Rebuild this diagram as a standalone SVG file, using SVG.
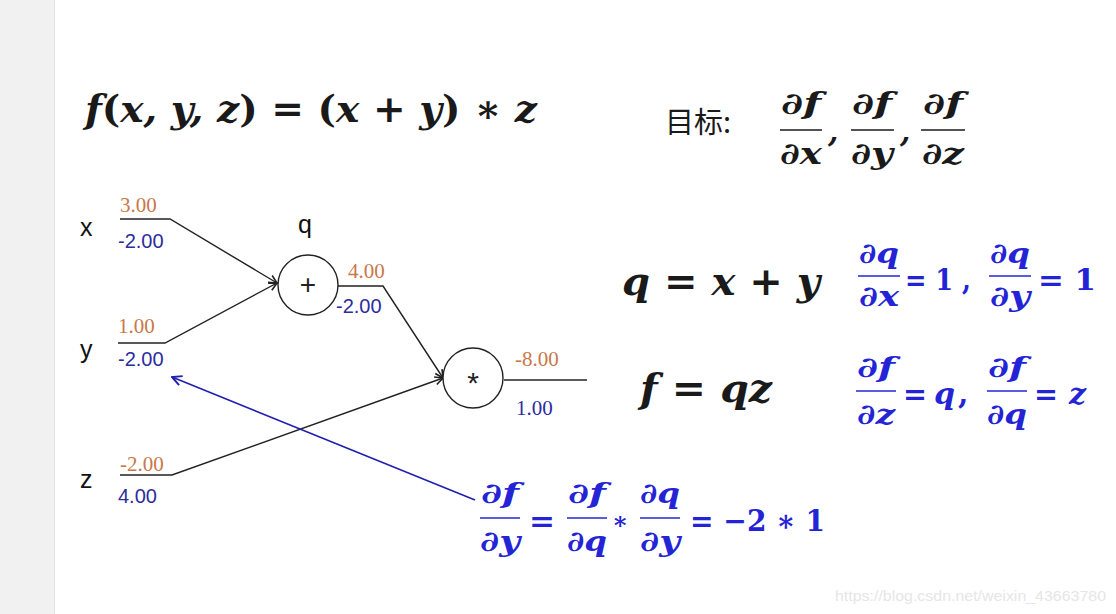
<svg xmlns="http://www.w3.org/2000/svg" width="1116" height="614" viewBox="0 0 1116 614">
<defs>
<style>
.m{font-family:"DejaVu Serif","Liberation Serif",serif;font-weight:bold;font-style:italic;fill:#1a1a1a}
.mb{font-family:"DejaVu Serif","Liberation Serif",serif;font-weight:bold;font-style:italic;fill:#2424d6}
.up{font-style:normal}
.lbl{font-family:"Liberation Sans","DejaVu Sans",sans-serif;font-size:25px;fill:#111}
.or{font-family:"Liberation Serif",serif;font-size:21px;fill:#c8784a}
.bs{font-family:"Liberation Sans",sans-serif;font-size:20px;fill:#2c2c9e}
.bsr{font-family:"Liberation Serif",serif;font-size:21px;fill:#2c2c9e}
.edge{fill:none;stroke:#222;stroke-width:1.4}
.node{fill:#fff;stroke:#222;stroke-width:1.4}
.fl{stroke:#1a1a1a;stroke-width:1.6}
.flb{stroke:#2424d6;stroke-width:1.6}
</style>
<marker id="ah" viewBox="0 0 10 10" refX="9" refY="5" markerWidth="10" markerHeight="10" markerUnits="userSpaceOnUse" orient="auto">
<path d="M1,1 L9,5 L1,9" fill="none" stroke="#222" stroke-width="1.6"/>
</marker>
<marker id="ahb" viewBox="0 0 10 10" refX="9" refY="5" markerWidth="12" markerHeight="12" markerUnits="userSpaceOnUse" orient="auto">
<path d="M1,1 L9,5 L1,9" fill="none" stroke="#2020b0" stroke-width="1.6"/>
</marker>
</defs>
<rect x="0" y="0" width="1116" height="614" fill="#fff"/>
<rect x="0" y="0" width="54" height="614" fill="#f1f1f1"/>
<line x1="54.5" y1="0" x2="54.5" y2="614" stroke="#e2e2e2" stroke-width="1"/>

<g id="title">
<text class="m" x="85" y="122" font-size="38" textLength="452" lengthAdjust="spacingAndGlyphs">f<tspan class="up">(</tspan>x, y, z<tspan class="up">) = (</tspan>x <tspan class="up">+</tspan>  y<tspan class="up">) ∗ </tspan>z</text>
</g>

<g id="goal">
<text x="665" y="133" font-family="'Noto Sans CJK SC',sans-serif" font-size="29" fill="#1a1a1a">目标:</text>
<text class="m" x="801" y="114" font-size="30" text-anchor="middle" textLength="40" lengthAdjust="spacingAndGlyphs">∂f</text>
<line class="fl" x1="780" y1="130" x2="822" y2="130"/>
<text class="m" x="801" y="164" font-size="30" text-anchor="middle" textLength="42" lengthAdjust="spacingAndGlyphs">∂x</text>
<text class="m" x="828" y="142" font-size="30">,</text>
<text class="m" x="872" y="114" font-size="30" text-anchor="middle" textLength="40" lengthAdjust="spacingAndGlyphs">∂f</text>
<line class="fl" x1="851" y1="130" x2="894" y2="130"/>
<text class="m" x="872" y="164" font-size="30" text-anchor="middle" textLength="42" lengthAdjust="spacingAndGlyphs">∂y</text>
<text class="m" x="900" y="142" font-size="30">,</text>
<text class="m" x="943" y="114" font-size="30" text-anchor="middle" textLength="40" lengthAdjust="spacingAndGlyphs">∂f</text>
<line class="fl" x1="921" y1="130" x2="965" y2="130"/>
<text class="m" x="943" y="164" font-size="30" text-anchor="middle" textLength="42" lengthAdjust="spacingAndGlyphs">∂z</text>
</g>

<g id="connectors">
<path class="edge" d="M120,219 H170 L277,283" marker-end="url(#ah)"/>
<path class="edge" d="M118,343 H165 L277,283" marker-end="url(#ah)"/>
<path class="edge" d="M338,286 H383 L443,378" marker-end="url(#ah)"/>
<path class="edge" d="M120,475 H172 L443,378" marker-end="url(#ah)"/>
<path class="edge" d="M504,380 H587"/>
<path d="M475,500 L172,377" fill="none" stroke="#2020b0" stroke-width="1.6" marker-end="url(#ahb)"/>
</g>

<g id="input-x">
<text class="lbl" x="80" y="236">x</text>
<text class="or" x="120" y="212">3.00</text>
<text class="bs" x="118" y="248">-2.00</text>
</g>
<g id="input-y">
<text class="lbl" x="80" y="358">y</text>
<text class="or" x="118" y="333">1.00</text>
<text class="bs" x="118" y="366">-2.00</text>
</g>
<g id="input-z">
<text class="lbl" x="80" y="488">z</text>
<text class="or" x="120" y="471">-2.00</text>
<text class="bs" x="118" y="503">4.00</text>
</g>
<g id="node-add">
<text class="lbl" x="298" y="233">q</text>
<circle class="node" cx="308" cy="285" r="30"/>
<text x="308" y="294" font-family="'Liberation Sans',sans-serif" font-size="28" fill="#222" text-anchor="middle">+</text>
<text class="or" x="348" y="278">4.00</text>
<text class="bs" x="336" y="313">-2.00</text>
</g>
<g id="node-mul">
<circle class="node" cx="473" cy="378" r="30"/>
<text x="473" y="393" font-family="'Liberation Sans',sans-serif" font-size="30" fill="#222" text-anchor="middle">*</text>
<text class="or" x="515" y="366">-8.00</text>
<text class="bsr" x="516" y="415">1.00</text>
</g>

<g id="eq-q">
<text class="m" x="622" y="295" font-size="40" textLength="198" lengthAdjust="spacingAndGlyphs">q <tspan class="up">=</tspan> x <tspan class="up">+</tspan> y</text>
<text class="mb" x="879" y="263" font-size="28" text-anchor="middle" textLength="40" lengthAdjust="spacingAndGlyphs">∂q</text>
<line class="flb" x1="858" y1="276" x2="900" y2="276"/>
<text class="mb" x="879" y="306" font-size="28" text-anchor="middle" textLength="40" lengthAdjust="spacingAndGlyphs">∂x</text>
<text class="mb up" x="905" y="290" font-size="30" textLength="66" lengthAdjust="spacingAndGlyphs">= 1 ,</text>
<text class="mb" x="1010" y="263" font-size="28" text-anchor="middle" textLength="40" lengthAdjust="spacingAndGlyphs">∂q</text>
<line class="flb" x1="989" y1="276" x2="1031" y2="276"/>
<text class="mb" x="1010" y="306" font-size="28" text-anchor="middle" textLength="40" lengthAdjust="spacingAndGlyphs">∂y</text>
<text class="mb up" x="1038" y="290" font-size="30" textLength="58" lengthAdjust="spacingAndGlyphs">= 1</text>
</g>

<g id="eq-f">
<text class="m" x="640" y="402" font-size="40" textLength="132" lengthAdjust="spacingAndGlyphs">f <tspan class="up">=</tspan> qz</text>
<text class="mb" x="876" y="377" font-size="28" text-anchor="middle" textLength="38" lengthAdjust="spacingAndGlyphs">∂f</text>
<line class="flb" x1="856" y1="391" x2="896" y2="391"/>
<text class="mb" x="876" y="424" font-size="28" text-anchor="middle" textLength="38" lengthAdjust="spacingAndGlyphs">∂z</text>
<text class="mb up" x="903" y="404" font-size="30" textLength="24" lengthAdjust="spacingAndGlyphs">=</text>
<text class="mb" x="934" y="404" font-size="30">q</text>
<text class="mb up" x="958" y="404" font-size="30">,</text>
<text class="mb" x="1007" y="377" font-size="28" text-anchor="middle" textLength="38" lengthAdjust="spacingAndGlyphs">∂f</text>
<line class="flb" x1="987" y1="391" x2="1027" y2="391"/>
<text class="mb" x="1007" y="424" font-size="28" text-anchor="middle" textLength="40" lengthAdjust="spacingAndGlyphs">∂q</text>
<text class="mb up" x="1034" y="404" font-size="30" textLength="24" lengthAdjust="spacingAndGlyphs">=</text>
<text class="mb" x="1069" y="404" font-size="30">z</text>
</g>

<g id="eq-chain">
<text class="mb" x="500" y="503" font-size="28" text-anchor="middle" textLength="38" lengthAdjust="spacingAndGlyphs">∂f</text>
<line class="flb" x1="480" y1="518" x2="520" y2="518"/>
<text class="mb" x="500" y="551" font-size="28" text-anchor="middle" textLength="40" lengthAdjust="spacingAndGlyphs">∂y</text>
<text class="mb up" x="529" y="531" font-size="30" textLength="26" lengthAdjust="spacingAndGlyphs">=</text>
<text class="mb" x="587" y="503" font-size="28" text-anchor="middle" textLength="38" lengthAdjust="spacingAndGlyphs">∂f</text>
<line class="flb" x1="567" y1="518" x2="607" y2="518"/>
<text class="mb" x="587" y="551" font-size="28" text-anchor="middle" textLength="40" lengthAdjust="spacingAndGlyphs">∂q</text>
<text class="mb up" x="612" y="529" font-size="24">∗</text>
<text class="mb" x="660" y="503" font-size="28" text-anchor="middle" textLength="40" lengthAdjust="spacingAndGlyphs">∂q</text>
<line class="flb" x1="640" y1="518" x2="680" y2="518"/>
<text class="mb" x="660" y="551" font-size="28" text-anchor="middle" textLength="40" lengthAdjust="spacingAndGlyphs">∂y</text>
<text class="mb up" x="690" y="531" font-size="30" textLength="135" lengthAdjust="spacingAndGlyphs">= −2 ∗ 1</text>
</g>

<text x="835" y="601" font-family="'Liberation Sans',sans-serif" font-size="15.5" fill="#e6e6e6" textLength="271" lengthAdjust="spacingAndGlyphs">https://blog.csdn.net/weixin_43663780</text>
</svg>
